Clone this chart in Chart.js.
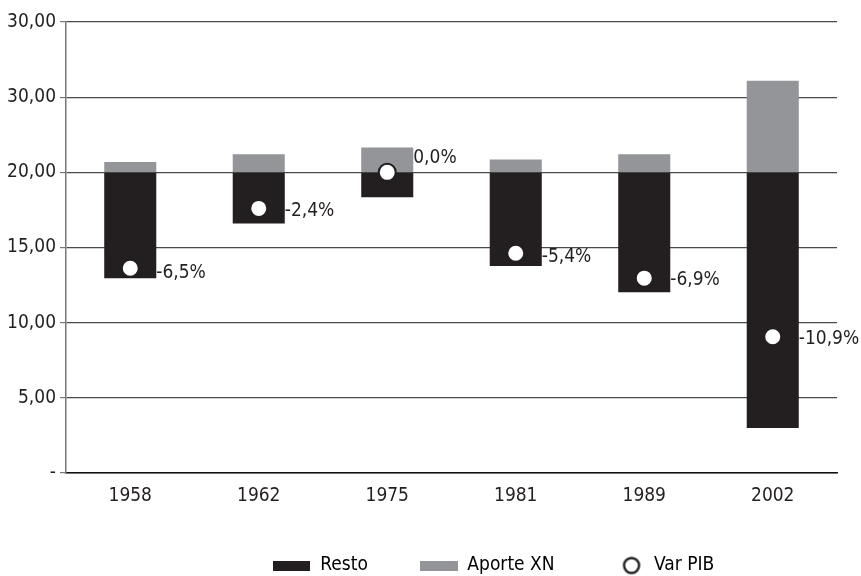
<!DOCTYPE html>
<html>
<head>
<meta charset="utf-8">
<script src="https://cdn.jsdelivr.net/npm/chart.js@4"></script>
<style>body{margin:0;background:#fff}</style>
</head>
<body>
<canvas id="plot" width="861" height="576"></canvas>
<script>
// values
const years = ['1958', '1962', '1975', '1981', '1989', '2002'];
const base = 20;
const resto_low = [12.96, 16.6, 18.34, 13.77, 12.03, 2.99];
const aporte_top = [20.68, 21.2, 21.66, 20.86, 21.2, 26.1];
const var_pib = [13.62, 17.6, 20.0, 14.62, 12.96, 9.06];
const var_labels = ['-6,5%', '-2,4%', '0,0%', '-5,4%', '-6,9%', '-10,9%'];
const y_tick_labels = ['-', '5,00', '10,00', '15,00', '20,00', '30,00', '30,00'];

const BLACK = '#231f20';
const GREY = '#939598';
const FONT = "'Liberation Sans Narrow', 'DejaVu Sans Condensed', 'Roboto Condensed', sans-serif";

Chart.defaults.font.family = FONT;
Chart.defaults.font.size = 19;
Chart.defaults.color = BLACK;

function swatch(color, w, h) {
  const c = document.createElement('canvas');
  c.width = w; c.height = h;
  const g = c.getContext('2d');
  g.fillStyle = color;
  g.fillRect(0, 0, w, h);
  return c;
}
function ring() {
  // circle sits near the right end so it stays close to its text
  const c = document.createElement('canvas');
  c.width = 38; c.height = 20;
  const g = c.getContext('2d');
  g.beginPath();
  g.arc(25, 10, 7.5, 0, Math.PI * 2);
  g.fillStyle = '#fff';
  g.fill();
  g.lineWidth = 2.4;
  g.strokeStyle = BLACK;
  g.stroke();
  return c;
}

// text next to every Var PIB point
const pibLabels = {
  id: 'pibLabels',
  afterDatasetsDraw(chart, args, opts) {
    const meta = chart.getDatasetMeta(2);
    const ctx = chart.ctx;
    ctx.save();
    ctx.font = '19px ' + FONT;
    ctx.fillStyle = BLACK;
    ctx.textBaseline = 'middle';
    ctx.textAlign = 'left';
    meta.data.forEach((pt, i) => {
      ctx.fillText(var_labels[i], pt.x + opts.dx, pt.y + opts.dy[i]);
    });
    ctx.restore();
  }
};

// nudge the legend row to the right like in the original
const legendShift = {
  id: 'legendShift',
  afterLayout(chart, args, opts) {
    chart.legend.left += opts.dx;
    chart.legend.right += opts.dx;
  }
};

const data = {
  labels: years,
  datasets: [
    {
      label: 'Resto',
      data: resto_low.map(v => [v, base]),
      backgroundColor: BLACK,
      grouped: false,
      order: 2
    },
    {
      label: 'Aporte XN',
      data: aporte_top.map(v => [base, v]),
      backgroundColor: GREY,
      grouped: false,
      order: 1
    },
    {
      label: 'Var PIB',
      type: 'line',
      data: var_pib,
      showLine: false,
      pointRadius: 8.5,
      pointHoverRadius: 8.5,
      pointBackgroundColor: '#fff',
      pointBorderColor: BLACK,
      pointBorderWidth: 2,
      order: 0
    }
  ]
};

const config = {
  type: 'bar',
  data: data,
  options: {
    responsive: false,
    animation: false,
    categoryPercentage: 1,
    barPercentage: 0.405,
    layout: { padding: { top: 22, right: 24, left: 0, bottom: -9 } },
    plugins: {
      tooltip: { enabled: false },
      legend: {
        position: 'bottom',
        labels: {
          usePointStyle: true,
          pointStyleWidth: 38,
          boxHeight: 10,
          padding: 52,
          font: { size: 19 },
          generateLabels: () => [
            { text: 'Resto', pointStyle: swatch(BLACK, 37, 10), datasetIndex: 0, lineWidth: 0 },
            { text: 'Aporte XN', pointStyle: swatch(GREY, 38, 10), datasetIndex: 1, lineWidth: 0 },
            { text: 'Var PIB', pointStyle: ring(), datasetIndex: 2, lineWidth: 0 }
          ]
        }
      },
      legendShift: { dx: 75 },
      pibLabels: { dx: 26, dy: [5, 3, -14, 4, 2, 2] }
    },
    scales: {
      x: {
        grid: { display: false, drawTicks: false },
        border: { display: true, color: '#111', width: 1.5 },
        ticks: { padding: 12, font: { size: 19 } },
        afterFit: s => { s.height = 31; }
      },
      y: {
        min: 0,
        max: 30,
        grid: { color: '#4a4a4a', lineWidth: 1.2, tickLength: 6, tickColor: '#777' },
        border: { display: true, color: '#777', width: 1.5 },
        ticks: {
          stepSize: 5,
          padding: 4,
          font: { size: 19 },
          callback: (v, i) => y_tick_labels[i]
        },
        afterFit: s => { s.width = 66; }
      }
    }
  },
  plugins: [pibLabels, legendShift]
};

let ctx = document.getElementById('plot').getContext('2d');
let chart = new Chart(ctx, config);
</script>
</body>
</html>
